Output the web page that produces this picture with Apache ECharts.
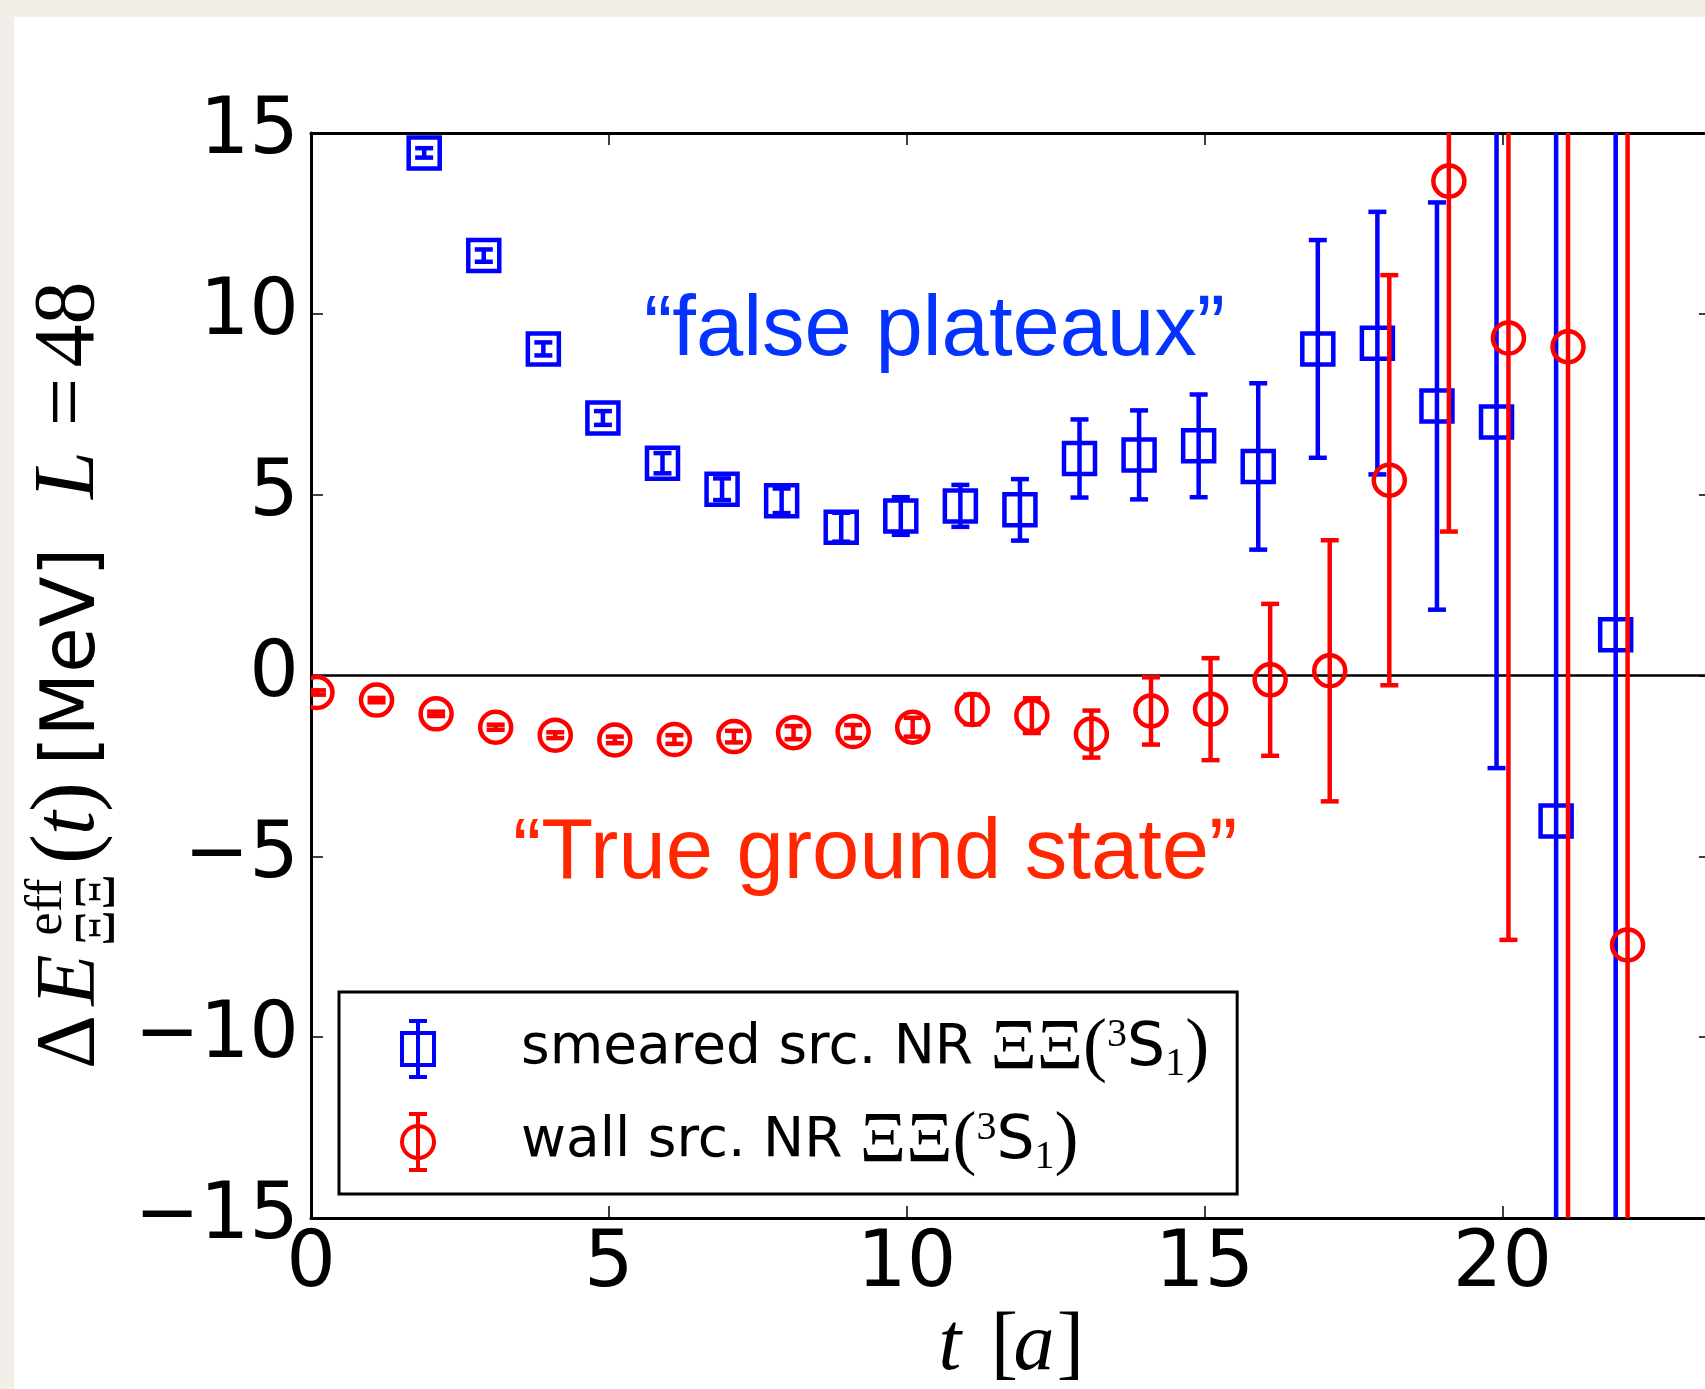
<!DOCTYPE html>
<html>
<head>
<meta charset="utf-8">
<script src="https://cdn.jsdelivr.net/npm/echarts/dist/echarts.min.js"></script>
<style>
html,body{margin:0;padding:0;background:#ffffff;}
#chart{width:1705px;height:1389px;}
</style>
</head>
<body>
<div id="chart"></div>
<script>
// ---------------- data ----------------
const tSmeared   = [2,3,4,5,6,7,8,9,10,11,12,13,14,15,16,17,18,19,20,21,22];
const smearedVal = [14.45,11.61,9.03,7.12,5.87,5.15,4.83,4.10,4.41,4.69,4.58,6.00,6.10,6.35,5.78,9.03,9.19,7.45,7.01,-4.02,1.13];
const smearedErr = [0.13,0.17,0.18,0.19,0.28,0.30,0.34,0.40,0.52,0.58,0.85,1.08,1.23,1.42,2.30,3.01,3.63,5.63,9.57,20,18];

const tWall   = [0,1,2,3,4,5,6,7,8,9,10,11,12,13,14,15,16,17,18,19,20,21,22];
const wallVal = [-0.47,-0.68,-1.06,-1.43,-1.65,-1.78,-1.77,-1.69,-1.58,-1.55,-1.43,-0.94,-1.11,-1.62,-0.98,-0.93,-0.12,0.13,5.40,13.67,9.33,9.09,-7.45];
const wallErr = [0.06,0.06,0.06,0.07,0.08,0.09,0.12,0.16,0.18,0.18,0.26,0.41,0.48,0.65,0.93,1.41,2.10,3.61,5.67,9.69,16.64,25,23];

const seriesNames = ['smeared src. NR', 'wall src. NR'];
const xTickLabels = [0,5,10,15,20];
const yTickLabels = [-15,-10,-5,0,5,10,15];
const X_MIN = 0, X_MAX = 23.5, Y_MIN = -15, Y_MAX = 15, TICK_STEP = 5;
const ZERO_LEVEL = 0;
const SHIFT_SMEARED = -0.1, SHIFT_WALL = 0.1;

// ---------------- helpers ----------------
const BLUE = '#0000ff', RED = '#ff0000';
const SERIF = '"Liberation Serif", "DejaVu Serif", serif';
const SANS = '"DejaVu Sans", sans-serif';
const HELV = '"Liberation Sans", Arial, sans-serif';

function errRender(shape, color) {
  return function (params, api) {
    const x = api.value(0), v = api.value(1), e = api.value(2);
    const c = api.coord([x, v]);
    const hi = api.coord([x, v + e]);
    const lo = api.coord([x, v - e]);
    const cap = 9, half = 15.5, lw = 4.5;
    const st = () => ({ stroke: color, lineWidth: lw, fill: 'none' });
    const kids = [
      { type: 'line', shape: { x1: c[0], y1: hi[1], x2: c[0], y2: lo[1] }, style: st() },
      { type: 'line', shape: { x1: c[0] - cap, y1: hi[1], x2: c[0] + cap, y2: hi[1] }, style: st() },
      { type: 'line', shape: { x1: c[0] - cap, y1: lo[1], x2: c[0] + cap, y2: lo[1] }, style: st() }
    ];
    if (shape === 'square') {
      kids.push({ type: 'rect', shape: { x: c[0] - half, y: c[1] - half, width: 2 * half, height: 2 * half }, style: st() });
    } else {
      kids.push({ type: 'circle', shape: { cx: c[0], cy: c[1], r: half }, style: st() });
    }
    return { type: 'group', children: kids };
  };
}

const smearedData = tSmeared.map((t, i) => [t + SHIFT_SMEARED, smearedVal[i], smearedErr[i]]);
const wallData = tWall.map((t, i) => [t + SHIFT_WALL, wallVal[i], wallErr[i]]);

// legend icons (outline marker + error bar), drawn as filled paths with holes
const squareIcon = 'path://M0 12 L36 12 L36 48 L0 48 Z M4 16 L4 44 L32 44 L32 16 Z ' +
  'M16 2 L20 2 L20 58 L16 58 Z M9 0 L27 0 L27 4 L9 4 Z M9 56 L27 56 L27 60 L9 60 Z';
const circleIcon = 'path://M36 30 A18 18 0 1 1 0 30 A18 18 0 1 1 36 30 Z M32 30 A14 14 0 1 0 4 30 A14 14 0 1 0 32 30 Z ' +
  'M16 2 L20 2 L20 58 L16 58 Z M9 0 L27 0 L27 4 L9 4 Z M9 56 L27 56 L27 60 L9 60 Z';

function minusFmt(v) { return v < 0 ? '\u2212' + Math.abs(v) : String(v); }

function txt(x, y, text, size, family, italic, color, align) {
  return {
    type: 'text', x: x, y: y, silent: true,
    style: {
      text: text, fontSize: size, fontFamily: family, fontStyle: italic ? 'italic' : 'normal',
      fill: color || '#000', align: align || 'center', textAlign: align || 'center',
      verticalAlign: 'middle', textVerticalAlign: 'middle'
    }
  };
}
const MID = 0.34; // middle-to-baseline offset (fraction of font size)

// y-axis title pieces (rotated group; local x runs up the page)
const yTitleChildren = [
  txt(21, 0 - MID * 84, '\u0394', 84, SERIF, false),
  txt(83, 0 - MID * 84, 'E', 84, SERIF, true),
  txt(156, -35 - MID * 52, 'eff', 52, SERIF, false),
  txt(153, 18 - MID * 56, '\u039E\u039E', 56, SERIF, false),
  txt(214, 0 - MID * 90, '(', 90, SERIF, false),
  txt(240, 0 - MID * 86, 't', 86, SERIF, true),
  txt(266, 0 - MID * 90, ')', 90, SERIF, false),
  txt(406.5, 0 - MID * 74, '[MeV]', 74, SANS, false),
  txt(588, 0 - MID * 86, 'L', 86, SERIF, true),
  txt(661, 0 - MID * 86, '=', 86, SERIF, false),
  txt(738.5, 0 - MID * 86, '48', 86, SERIF, false)
];

const chart = echarts.init(document.getElementById('chart'), null, { renderer: 'canvas', width: 1705, height: 1389 });

const axisLineStyle = { color: '#000', width: 3 };
const tickStyle = { color: '#000', width: 1.5 };

const option = {
  backgroundColor: '#ffffff',
  animation: false,
  grid: { left: 311, top: 133, width: 1400, height: 1085, containLabel: false, outerBoundsMode: 'none' },
  xAxis: [
    {
      type: 'value', min: X_MIN, max: X_MAX, interval: TICK_STEP, position: 'bottom',
      axisLine: { show: true, onZero: false, lineStyle: axisLineStyle },
      axisTick: { show: true, inside: true, length: 12, lineStyle: tickStyle },
      axisLabel: {
        show: true, margin: 9, color: '#000', fontFamily: SANS, fontSize: 78,
        showMaxLabel: false,
        formatter: v => (xTickLabels.indexOf(v) >= 0 ? String(v) : '')
      },
      splitLine: { show: false }
    },
    {
      type: 'value', min: X_MIN, max: X_MAX, interval: TICK_STEP, position: 'top',
      axisLine: { show: true, onZero: false, lineStyle: axisLineStyle },
      axisTick: { show: true, inside: true, length: 12, lineStyle: tickStyle },
      axisLabel: { show: false }, splitLine: { show: false }
    }
  ],
  yAxis: [
    {
      type: 'value', min: Y_MIN, max: Y_MAX, interval: TICK_STEP, position: 'left',
      axisLine: { show: true, onZero: false, lineStyle: axisLineStyle },
      axisTick: { show: true, inside: true, length: 12, lineStyle: tickStyle },
      axisLabel: {
        show: true, margin: 12, color: '#000', fontFamily: SANS, fontSize: 78,
        formatter: v => (yTickLabels.indexOf(v) >= 0 ? minusFmt(v) : '')
      },
      splitLine: { show: false }
    },
    {
      type: 'value', min: Y_MIN, max: Y_MAX, interval: TICK_STEP, position: 'right',
      axisLine: { show: true, onZero: false, lineStyle: axisLineStyle },
      axisTick: { show: true, inside: true, length: 12, lineStyle: tickStyle },
      axisLabel: { show: false }, splitLine: { show: false }
    }
  ],
  legend: {
    show: true, orient: 'vertical', left: 339, top: 992,
    padding: [21, 28, 16, 61],
    itemWidth: 36, itemHeight: 60, itemGap: 21,
    backgroundColor: '#ffffff', borderColor: '#000', borderWidth: 3, borderRadius: 0,
    selectedMode: false,
    data: [
      { name: seriesNames[0], icon: squareIcon, itemStyle: { color: BLUE, borderWidth: 0 } },
      { name: seriesNames[1], icon: circleIcon, itemStyle: { color: RED, borderWidth: 0 } }
    ],
    formatter: function (name) {
      return '{gap| }{t|' + name + ' }{x|\u039E\u039E(}{sup|3}{s|S}{sub|1}{x|)}';
    },
    textStyle: {
      color: '#000', fontFamily: SANS, fontSize: 55, lineHeight: 56,
      rich: {
        gap: { width: 80, lineHeight: 56 },
        t: { fontFamily: SANS, fontSize: 55, color: '#000', lineHeight: 56 },
        x: { fontFamily: SERIF, fontSize: 72, color: '#000', lineHeight: 56 },
        sup: { fontFamily: SERIF, fontSize: 40, color: '#000', padding: [0, 0, 28, 0], lineHeight: 20 },
        s: { fontFamily: SANS, fontSize: 60, color: '#000', lineHeight: 56 },
        sub: { fontFamily: SERIF, fontSize: 40, color: '#000', padding: [30, 0, 0, 0], lineHeight: 20 }
      }
    }
  },
  graphic: [
    { type: 'rect', z: -10, silent: true, shape: { x: 0, y: 0, width: 1705, height: 17 }, style: { fill: '#f3efe8' } },
    { type: 'rect', z: -10, silent: true, shape: { x: 0, y: 0, width: 14, height: 1389 }, style: { fill: '#f3efe8' } },
    txt(644, 360 - MID * 85, '\u201Cfalse plateaux\u201D', 85, HELV, false, '#0433ff', 'left'),
    txt(513, 883 - MID * 85, '\u201CTrue ground state\u201D', 85, HELV, false, '#ff2600', 'left'),
    txt(950, 1375 - MID * 82, 't', 82, SERIF, true),
    txt(1004.5, 1375 - MID * 82, '[', 82, SERIF, false),
    txt(1034, 1375 - MID * 82, 'a', 82, SERIF, true),
    txt(1070.5, 1375 - MID * 82, ']', 82, SERIF, false),
    { type: 'group', x: 100, y: 1063, rotation: Math.PI / 2, children: yTitleChildren }
  ],
  series: [
    {
      name: 'zero', type: 'line', xAxisIndex: 0, yAxisIndex: 0, silent: true,
      data: [[X_MIN, ZERO_LEVEL], [X_MAX, ZERO_LEVEL]], symbol: 'none',
      lineStyle: { color: '#000', width: 2.5 }, z: 1
    },
    {
      name: seriesNames[0], type: 'custom', xAxisIndex: 0, yAxisIndex: 0, clip: true,
      itemStyle: { color: BLUE }, renderItem: errRender('square', BLUE),
      encode: { x: 0, y: 1 }, data: smearedData, z: 2
    },
    {
      name: seriesNames[1], type: 'custom', xAxisIndex: 0, yAxisIndex: 0, clip: true,
      itemStyle: { color: RED }, renderItem: errRender('circle', RED),
      encode: { x: 0, y: 1 }, data: wallData, z: 3
    }
  ]
};
chart.setOption(option);
</script>
</body>
</html>
